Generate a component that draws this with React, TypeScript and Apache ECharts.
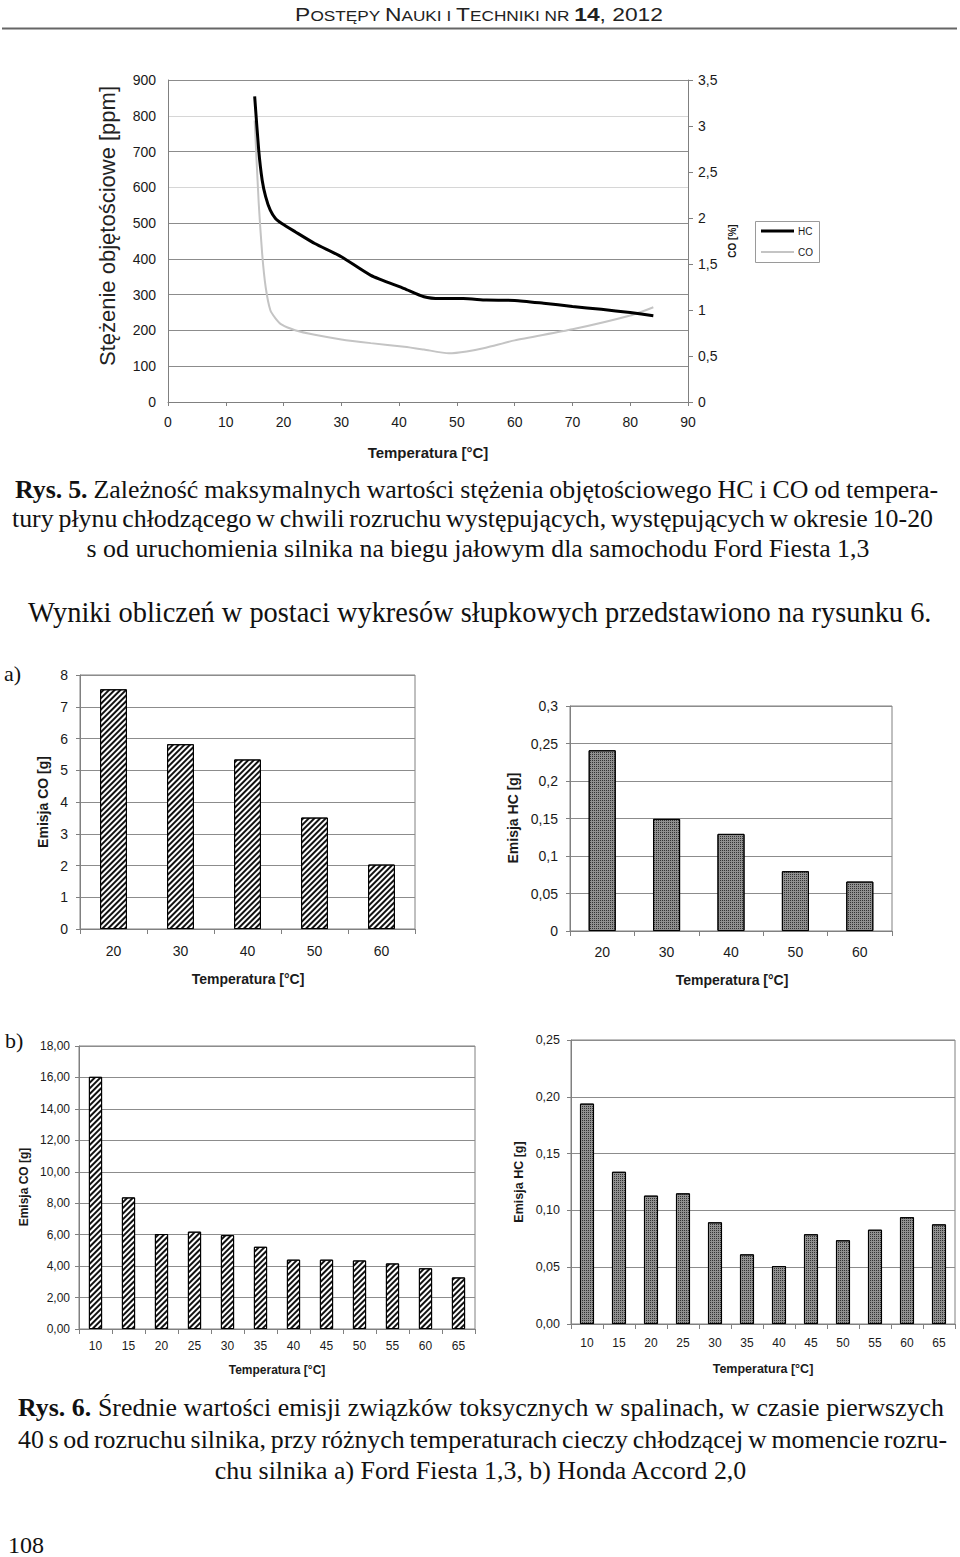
import React, { useEffect, useRef } from 'react';
import * as echarts from 'echarts';

// ---- Data: Rys. 5 (line chart) ----
const hcTemp = [15, 15.7, 16.3, 16.9, 17.7, 18.6, 19.7, 22, 25.4, 30, 35.1, 40.9, 44.3, 47.1, 51.1, 55.1, 60, 65, 70, 75, 80, 84];
const hcPpm = [854, 704, 620, 574, 536, 513, 499, 476, 443, 406, 354, 317, 294, 289, 289, 285, 284, 276, 267, 259, 250, 241];
const coTemp = [15, 15.7, 16.3, 16.9, 17.7, 18.6, 19.7, 22, 25.4, 30, 35.1, 40.9, 44.3, 48.6, 51.7, 55, 60, 70, 80, 84];
const coPct = [3.06, 2.16, 1.61, 1.25, 1.0, 0.91, 0.84, 0.78, 0.73, 0.68, 0.64, 0.6, 0.57, 0.53, 0.55, 0.59, 0.67, 0.79, 0.94, 1.03];

// ---- Data: Rys. 6 a) Ford Fiesta ----
const aTemps = ['20', '30', '40', '50', '60'];
const aCO = [7.55, 5.82, 5.34, 3.51, 2.03];
const aHC = [0.241, 0.1495, 0.1295, 0.0797, 0.0659];

// ---- Data: Rys. 6 b) Honda Accord ----
const bTemps = ['10', '15', '20', '25', '30', '35', '40', '45', '50', '55', '60', '65'];
const bCO = [16.04, 8.37, 6.04, 6.19, 5.97, 5.23, 4.41, 4.41, 4.36, 4.17, 3.86, 3.28];
const bHC = [0.194, 0.134, 0.113, 0.115, 0.0895, 0.0613, 0.051, 0.079, 0.0737, 0.083, 0.094, 0.0877];

// ---- Texts ----
const headerParts = [
  { t: 'P', k: 'c' }, { t: 'OSTĘPY ', k: 's' }, { t: 'N', k: 'c' }, { t: 'AUKI I ', k: 's' },
  { t: 'T', k: 'c' }, { t: 'ECHNIKI NR ', k: 's' }, { t: '14', k: 'b' }, { t: ', 2012', k: 'c' },
];
const rys5Lines = [
  'Rys. 5. Zależność maksymalnych wartości stężenia objętościowego HC i CO od tempera-',
  'tury płynu chłodzącego w chwili rozruchu występujących, występujących w okresie 10-20',
  's od uruchomienia silnika na biegu jałowym dla samochodu Ford Fiesta 1,3',
];
const bodyLine = 'Wyniki obliczeń w postaci wykresów słupkowych przedstawiono na rysunku 6.';
const rys6Lines = [
  'Rys. 6. Średnie wartości emisji związków toksycznych w spalinach, w czasie pierwszych',
  '40 s od rozruchu silnika, przy różnych temperaturach cieczy chłodzącej w momencie rozru-',
  'chu silnika a) Ford Fiesta 1,3, b) Honda Accord 2,0',
];

const SANS = '"Liberation Sans", Arial, sans-serif';
const SERIF = '"Liberation Serif", "Times New Roman", serif';
const AXIS = '#808080';
const GRID = '#8c8c8c';
const TXT = '#1a1a1a';

const comma = (v: number, d?: number) =>
  (d != null ? v.toFixed(d) : String(+v.toFixed(4))).replace('.', ',');

export default function App() {
  const ref = useRef<HTMLDivElement>(null);
  useEffect(() => {
    document.body.style.margin = '0';
    if (!ref.current) return;
    const chart = echarts.init(ref.current, null, { renderer: 'svg' });

    const ctx = document.createElement('canvas').getContext('2d')!;
    const measure = (t: string, size: number, bold = false, fam = SERIF) => {
      ctx.font = `${bold ? 'bold ' : ''}${size}px ${fam}`;
      return ctx.measureText(t).width;
    };
    const fit = (t: string, w: number) => (20 * w) / measure(t, 20);

    const txt = (t: string, x: number, y: number, o: any = {}) => ({
      type: 'text',
      x,
      y,
      rotation: o.rotation || 0,
      scaleX: o.scaleX || 1,
      silent: true,
      style: {
        text: t,
        fontFamily: o.fontFamily || SANS,
        fontSize: o.fontSize || 12,
        fontWeight: o.fontWeight || 'normal',
        fill: o.fill || TXT,
        textAlign: o.align || 'center',
        textVerticalAlign: 'middle',
        align: o.align || 'center',
        verticalAlign: 'middle',
      },
    });

    const captionSize = (fit(rys5Lines[2], 780) + fit(rys6Lines[2], 535)) / 2;
    const bodySize = fit(bodyLine, 904);

    const justify = (line: string, boldCount: number, x0: number, x1: number, y: number, size: number) => {
      const words = line.split(' ');
      const ws = words.map((w, i) => measure(w, size, i < boldCount));
      const total = ws.reduce((a, b) => a + b, 0);
      const gap = (x1 - x0 - total) / (words.length - 1);
      let x = x0;
      return words.map((w, i) => {
        const el = txt(w, x, y, { fontFamily: SERIF, fontSize: size, fontWeight: i < boldCount ? 'bold' : 'normal', align: 'left', fill: '#111' });
        x += ws[i] + gap;
        return el;
      });
    };

    // header: small caps, horizontally scaled to the target width
    const hSizes: any = { c: 18.5, s: 14, b: 18.5 };
    const hWidth = headerParts.reduce((a, p) => a + measure(p.t, hSizes[p.k], p.k === 'b', SANS), 0);
    const hScale = 368 / hWidth;

    const graphics: any[] = [
      {
        type: 'text',
        x: 479,
        y: 14,
        scaleX: hScale,
        silent: true,
        style: {
          text: headerParts.map((p) => `{${p.k}|${p.t}}`).join(''),
          align: 'center',
          verticalAlign: 'middle',
          textAlign: 'center',
          textVerticalAlign: 'middle',
          rich: {
            c: { fontFamily: SANS, fontSize: hSizes.c, fill: '#222', verticalAlign: 'bottom' },
            s: { fontFamily: SANS, fontSize: hSizes.s, fill: '#222', verticalAlign: 'bottom' },
            b: { fontFamily: SANS, fontSize: hSizes.b, fontWeight: 'bold', fill: '#222', verticalAlign: 'bottom' },
          },
        },
      },
      { type: 'rect', silent: true, shape: { x: 2, y: 27.5, width: 955, height: 2 }, style: { fill: '#666' } },
      // Rys.5 axis titles and legend
      txt('Stężenie objętościowe [ppm]', 107, 226, { fontSize: 22, rotation: Math.PI / 2, fill: '#222' }),
      txt('Temperatura [°C]', 428, 452, { fontSize: 15, fontWeight: 'bold' }),
      txt('CO [%]', 732, 241, { fontSize: 10, fontWeight: 'bold', rotation: Math.PI / 2 }),
      { type: 'rect', silent: true, shape: { x: 755.5, y: 221.5, width: 64, height: 41 }, style: { fill: '#fff', stroke: '#9a9a9a', lineWidth: 1 } },
      { type: 'line', silent: true, shape: { x1: 761, y1: 231, x2: 794, y2: 231 }, style: { stroke: '#000', lineWidth: 3 } },
      { type: 'line', silent: true, shape: { x1: 761, y1: 252, x2: 794, y2: 252 }, style: { stroke: '#c4c4c4', lineWidth: 2 } },
      txt('HC', 798, 231, { fontSize: 10, align: 'left' }),
      txt('CO', 798, 252, { fontSize: 10, align: 'left' }),
      // captions
      ...justify(rys5Lines[0], 2, 15, 938, 489.5, captionSize),
      ...justify(rys5Lines[1], 0, 12, 933, 518.5, captionSize),
      txt(rys5Lines[2], 478, 548.5, { fontFamily: SERIF, fontSize: captionSize, fill: '#111' }),
      txt(bodyLine, 28, 612, { fontFamily: SERIF, fontSize: bodySize, align: 'left', fill: '#111' }),
      txt('a)', 4, 673, { fontFamily: SERIF, fontSize: 22, align: 'left', fill: '#111' }),
      txt('b)', 5, 1040, { fontFamily: SERIF, fontSize: 22, align: 'left', fill: '#111' }),
      // bar chart titles
      txt('Emisja CO [g]', 43, 802, { fontSize: 14, fontWeight: 'bold', rotation: Math.PI / 2 }),
      txt('Temperatura [°C]', 248, 979, { fontSize: 14, fontWeight: 'bold' }),
      txt('Emisja HC [g]', 513, 818, { fontSize: 14, fontWeight: 'bold', rotation: Math.PI / 2 }),
      txt('Temperatura [°C]', 732, 980, { fontSize: 14, fontWeight: 'bold' }),
      txt('Emisja CO [g]', 24, 1187, { fontSize: 12, fontWeight: 'bold', rotation: Math.PI / 2 }),
      txt('Temperatura [°C]', 277, 1370, { fontSize: 12, fontWeight: 'bold' }),
      txt('Emisja HC [g]', 519, 1182, { fontSize: 12.5, fontWeight: 'bold', rotation: Math.PI / 2 }),
      txt('Temperatura [°C]', 763, 1369, { fontSize: 12.5, fontWeight: 'bold' }),
      // Rys.6 caption
      ...justify(rys6Lines[0], 2, 18, 944, 1407, captionSize),
      ...justify(rys6Lines[1], 0, 18, 947, 1439, captionSize),
      txt(rys6Lines[2], 480.5, 1470, { fontFamily: SERIF, fontSize: captionSize, fill: '#111' }),
      txt('108', 8, 1545, { fontFamily: SERIF, fontSize: 24, align: 'left', fill: '#111' }),
    ];

    const hatch = {
      symbol: 'rect',
      symbolSize: 1,
      color: '#111',
      backgroundColor: '#fff',
      dashArrayX: [1, 0],
      dashArrayY: [1.5, 1.5],
      rotation: -Math.PI / 4,
    };
    const dots = {
      symbol: 'rect',
      symbolSize: 1,
      color: '#333',
      backgroundColor: '#b0b0b0',
      dashArrayX: [1, 1],
      dashArrayY: [1, 1],
      rotation: 0,
    };

    const lbl = (fontSize: number, margin: number, formatter?: any) => ({
      fontFamily: SANS,
      fontSize,
      color: TXT,
      margin,
      formatter,
    });
    const line = { lineStyle: { color: AXIS, width: 1 } };
    const split = { show: true, lineStyle: { color: GRID, width: 1 } };
    const catX = (gi: number, data: string[], fs: number, margin: number) => ({
      gridIndex: gi,
      type: 'category',
      data,
      axisLine: line,
      axisTick: { show: true, length: 5, lineStyle: { color: AXIS } },
      axisLabel: lbl(fs, margin),
      splitLine: { show: false },
    });
    const valY = (gi: number, max: number, interval: number, fs: number, margin: number, fmt: any) => ({
      gridIndex: gi,
      type: 'value',
      min: 0,
      max,
      interval,
      axisLine: { show: true, ...line },
      axisTick: { show: true, length: 4, lineStyle: { color: AXIS } },
      axisLabel: lbl(fs, margin, fmt),
      splitLine: split,
    });

    const light = '#d6d6d6';
    chart.setOption({
      animation: false,
      backgroundColor: '#fff',
      grid: [
        { left: 168, top: 80, width: 520, height: 322 },
        { left: 80, top: 675, width: 335, height: 254, show: true, borderColor: AXIS, borderWidth: 1 },
        { left: 570, top: 706, width: 322, height: 225, show: true, borderColor: AXIS, borderWidth: 1 },
        { left: 79, top: 1046, width: 396, height: 283, show: true, borderColor: AXIS, borderWidth: 1 },
        { left: 571, top: 1040, width: 384, height: 284, show: true, borderColor: AXIS, borderWidth: 1 },
      ],
      xAxis: [
        {
          gridIndex: 0,
          type: 'value',
          min: 0,
          max: 90,
          interval: 10,
          axisLine: line,
          axisTick: { show: true, length: 4, lineStyle: { color: AXIS } },
          axisLabel: lbl(14, 13),
          splitLine: { show: false },
        },
        catX(1, aTemps, 14, 15),
        catX(2, aTemps, 14, 14),
        catX(3, bTemps, 12, 11),
        catX(4, bTemps, 12, 13),
      ],
      yAxis: [
        {
          gridIndex: 0,
          type: 'value',
          min: 0,
          max: 900,
          interval: 100,
          axisLine: { show: true, ...line },
          axisTick: { show: false },
          axisLabel: lbl(14, 12),
          splitLine: {
            show: true,
            lineStyle: { color: [GRID, GRID, GRID, GRID, GRID, GRID, light, GRID, light, GRID], width: 1 },
          },
        },
        {
          gridIndex: 0,
          type: 'value',
          position: 'right',
          min: 0,
          max: 3.5,
          interval: 0.5,
          axisLine: { show: true, ...line },
          axisTick: { show: true, length: 5, lineStyle: { color: AXIS } },
          axisLabel: lbl(14, 10, (v: number) => comma(v)),
          splitLine: { show: false },
        },
        valY(1, 8, 1, 14, 12, (v: number) => comma(v)),
        valY(2, 0.3, 0.05, 14, 12, (v: number) => comma(v)),
        valY(3, 18, 2, 12, 9, (v: number) => comma(v, 2)),
        valY(4, 0.25, 0.05, 12.5, 11, (v: number) => comma(v, 2)),
      ],
      series: [
        {
          name: 'CO',
          type: 'line',
          xAxisIndex: 0,
          yAxisIndex: 1,
          data: coTemp.map((t, i) => [t, coPct[i]]),
          symbol: 'none',
          smooth: 0.2,
          lineStyle: { color: '#c4c4c4', width: 2 },
          z: 2,
        },
        {
          name: 'HC',
          type: 'line',
          xAxisIndex: 0,
          yAxisIndex: 0,
          data: hcTemp.map((t, i) => [t, hcPpm[i]]),
          symbol: 'none',
          smooth: 0.2,
          lineStyle: { color: '#000', width: 3 },
          z: 3,
        },
        {
          type: 'bar', xAxisIndex: 1, yAxisIndex: 2, data: aCO, barWidth: '40%',
          itemStyle: { color: '#fff', borderColor: '#000', borderWidth: 1, decal: hatch },
        },
        {
          type: 'bar', xAxisIndex: 2, yAxisIndex: 3, data: aHC, barWidth: '42%',
          itemStyle: { color: '#909090', borderColor: '#000', borderWidth: 1, decal: dots },
        },
        {
          type: 'bar', xAxisIndex: 3, yAxisIndex: 4, data: bCO, barWidth: '40%',
          itemStyle: { color: '#fff', borderColor: '#000', borderWidth: 1, decal: hatch },
        },
        {
          type: 'bar', xAxisIndex: 4, yAxisIndex: 5, data: bHC, barWidth: '44%',
          itemStyle: { color: '#909090', borderColor: '#000', borderWidth: 1, decal: dots },
        },
      ],
      graphic: graphics,
    });
    return () => chart.dispose();
  }, []);
  return <div ref={ref} style={{ width: 960, height: 1557 }} />;
}
